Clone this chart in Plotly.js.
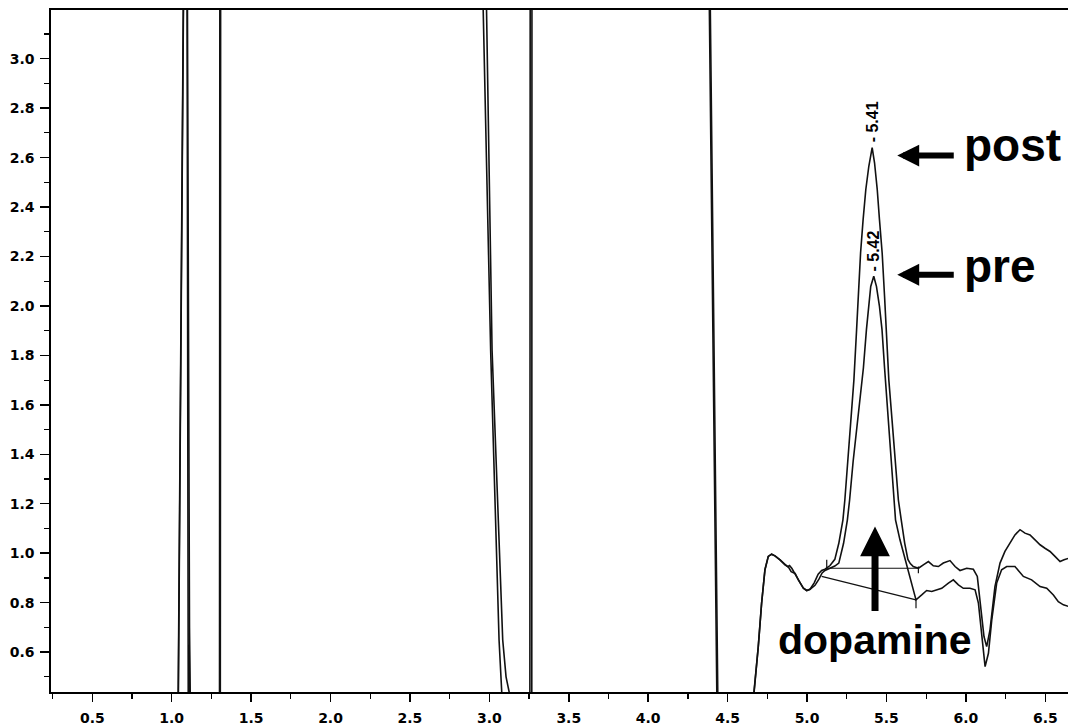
<!DOCTYPE html>
<html>
<head>
<meta charset="utf-8">
<script src="https://cdn.plot.ly/plotly-3.0.1.min.js"></script>
<style>
  html, body { margin: 0; padding: 0; background: #fff; }
  #chart { width: 1068px; height: 725px; }
</style>
</head>
<body>
<div id="chart"></div>
<script>
// Chromatogram traces: retention time (min) vs detector response.
// Values above 3.2 or below 0.44 run off the plotted window.
var postTime = [0.24, 1.040, 1.041, 1.072, 1.074, 1.096, 1.097, 1.104, 1.105, 1.107, 1.110, 1.113,
  1.301, 1.302, 1.303, 2.960, 2.961, 3.008, 3.061, 3.078, 3.080,
  3.255, 3.256, 3.257, 4.384, 4.385, 4.432, 4.434, 4.664,
  4.666, 4.693, 4.714, 4.735, 4.756, 4.777, 4.798, 4.830, 4.861, 4.878, 4.890, 4.905, 4.925, 4.945,
  4.977, 4.998, 5.019, 5.045, 5.070, 5.092, 5.113, 5.145, 5.175, 5.200, 5.226, 5.238, 5.255, 5.275,
  5.295, 5.312, 5.322, 5.337, 5.353, 5.370, 5.389, 5.410, 5.425, 5.442, 5.456, 5.473, 5.488, 5.498,
  5.515, 5.535, 5.555, 5.575, 5.593, 5.615, 5.635, 5.650, 5.669, 5.701, 5.732, 5.764, 5.795, 5.827,
  5.858, 5.900, 5.932, 5.963, 6.005, 6.047, 6.072, 6.093, 6.114, 6.131, 6.152, 6.183, 6.215, 6.246,
  6.278, 6.309, 6.341, 6.372, 6.404, 6.435, 6.467, 6.498, 6.530, 6.561, 6.593, 6.618, 6.650];
var postSignal = [0.35, 0.35, 0.437, 3.2, 3.3, 3.3, 3.2, 0.437, 0.35, 0.35, 0.63, 0.35,
  0.35, 3.2, 3.3, 3.3, 3.2, 1.82, 0.649, 0.437, 0.35,
  0.35, 3.2, 3.3, 3.3, 3.2, 0.437, 0.35, 0.35,
  0.440, 0.622, 0.798, 0.933, 0.987, 0.996, 0.989, 0.973, 0.953, 0.945, 0.950, 0.938, 0.915, 0.892,
  0.858, 0.849, 0.854, 0.880, 0.915, 0.930, 0.935, 0.950, 0.975, 1.040, 1.135, 1.215, 1.370, 1.540,
  1.700, 1.904, 2.039, 2.214, 2.349, 2.471, 2.565, 2.640, 2.579, 2.471, 2.349, 2.214, 2.039, 1.904,
  1.700, 1.540, 1.370, 1.215, 1.135, 1.040, 0.975, 0.958, 0.946, 0.939, 0.953, 0.966, 0.949, 0.946,
  0.960, 0.970, 0.946, 0.930, 0.939, 0.935, 0.906, 0.784, 0.663, 0.622, 0.690, 0.865, 0.960, 1.007,
  1.041, 1.074, 1.095, 1.081, 1.074, 1.054, 1.034, 1.020, 1.007, 0.987, 0.966, 0.973, 0.980];

var preTime = [0.24, 1.041, 1.042, 1.073, 1.075, 1.098, 1.099, 1.112, 1.115, 1.117, 1.118,
  1.306, 1.307, 1.308, 2.981, 2.982, 3.017, 3.084, 3.105, 3.125, 3.127,
  3.267, 3.268, 3.269, 4.390, 4.391, 4.438, 4.440, 4.665,
  4.667, 4.693, 4.714, 4.735, 4.756, 4.777, 4.798, 4.830, 4.861, 4.882, 4.900, 4.925, 4.945, 4.977,
  4.998, 5.019, 5.050, 5.075, 5.095, 5.113, 5.145, 5.175, 5.200, 5.230, 5.254, 5.268, 5.290, 5.320,
  5.355, 5.374, 5.387, 5.401, 5.420, 5.437, 5.456, 5.472, 5.488, 5.510, 5.530, 5.548, 5.557, 5.585,
  5.686, 5.722, 5.753, 5.785, 5.816, 5.848, 5.890, 5.921, 5.953, 5.984, 6.026, 6.058, 6.079, 6.100,
  6.121, 6.142, 6.163, 6.194, 6.225, 6.257, 6.288, 6.309, 6.362, 6.414, 6.467, 6.509, 6.551, 6.582,
  6.614, 6.650];
var preSignal = [0.35, 0.35, 0.437, 3.2, 3.3, 3.3, 3.2, 0.70, 0.60, 0.437, 0.35,
  0.35, 3.2, 3.3, 3.3, 3.2, 1.82, 0.649, 0.50, 0.437, 0.35,
  0.35, 3.2, 3.3, 3.3, 3.2, 0.437, 0.35, 0.35,
  0.440, 0.622, 0.798, 0.933, 0.987, 0.996, 0.989, 0.973, 0.953, 0.945, 0.925, 0.918, 0.892, 0.858,
  0.849, 0.854, 0.870, 0.895, 0.920, 0.930, 0.940, 0.948, 0.960, 1.040, 1.135, 1.215, 1.370, 1.540,
  1.750, 1.904, 1.998, 2.079, 2.120, 2.079, 1.998, 1.904, 1.750, 1.540, 1.370, 1.215, 1.135, 1.054,
  0.811, 0.831, 0.849, 0.845, 0.852, 0.858, 0.879, 0.892, 0.872, 0.858, 0.858, 0.852, 0.798, 0.663,
  0.541, 0.595, 0.730, 0.879, 0.933, 0.946, 0.946, 0.946, 0.906, 0.892, 0.865, 0.858, 0.831, 0.804,
  0.791, 0.784];

// Integration baselines with their start/end drop marks
var postBaseTime = [5.124, 5.124, null, 5.124, 5.701, null, 5.701, 5.701];
var postBaseSignal = [0.973, 0.935, null, 0.939, 0.939, null, 0.946, 0.919];
var preBaseTime = [5.092, 5.686, null, 5.686, 5.686];
var preBaseSignal = [0.906, 0.811, null, 0.811, 0.777];

// Apex retention times and heights
var peakTimes = [5.41, 5.42];
var peakHeights = [2.64, 2.12];
var peakLabels = ['5.41', '5.42'];

var traceLine = {color: '#111', width: 1.6};
var baseLine = {color: '#111', width: 1.2};

var traces = [
  {x: postTime, y: postSignal, type: 'scatter', mode: 'lines', line: traceLine, name: 'post', hoverinfo: 'skip'},
  {x: preTime, y: preSignal, type: 'scatter', mode: 'lines', line: traceLine, name: 'pre', hoverinfo: 'skip'},
  {x: postBaseTime, y: postBaseSignal, type: 'scatter', mode: 'lines', line: baseLine, connectgaps: false, hoverinfo: 'skip'},
  {x: preBaseTime, y: preBaseSignal, type: 'scatter', mode: 'lines', line: baseLine, connectgaps: false, hoverinfo: 'skip'}
];

var tickFont = {family: 'DejaVu Sans', size: 14, weight: 'bold', color: '#000'};
var bigFont = {family: 'Liberation Sans', size: 46, weight: 'bold', color: '#000'};

var annotations = [];
peakTimes.forEach(function (t, i) {
  annotations.push({
    x: t, y: peakHeights[i], xref: 'x', yref: 'y',
    text: '- ' + peakLabels[i], textangle: -90, showarrow: false,
    xanchor: 'center', yanchor: 'bottom', yshift: 3,
    font: {family: 'Liberation Sans', size: 16, weight: 'bold', color: '#000'}
  });
});

annotations.push(
  {x: 5.976, y: 2.649, xref: 'x', yref: 'y', text: 'post', showarrow: false, xanchor: 'left', yanchor: 'middle', font: bigFont},
  {x: 5.976, y: 2.163, xref: 'x', yref: 'y', text: 'pre', showarrow: false, xanchor: 'left', yanchor: 'middle', font: bigFont},
  {x: 5.428, y: 0.647, xref: 'x', yref: 'y', text: 'dopamine', showarrow: false, xanchor: 'center', yanchor: 'middle',
   font: {family: 'Liberation Sans', size: 41, weight: 'bold', color: '#000'}},
  {x: 5.568, y: 2.608, xref: 'x', yref: 'y', text: '', showarrow: true, arrowhead: 2, arrowwidth: 6, arrowsize: 0.73,
   arrowcolor: '#000', ax: 58, ay: 0},
  {x: 5.568, y: 2.126, xref: 'x', yref: 'y', text: '', showarrow: true, arrowhead: 2, arrowwidth: 6, arrowsize: 0.73,
   arrowcolor: '#000', ax: 58, ay: 0},
  {x: 5.428, y: 1.108, xref: 'x', yref: 'y', text: '', showarrow: true, arrowhead: 2, arrowwidth: 7, arrowsize: 0.85,
   arrowcolor: '#000', ax: 0, ay: 86}
);

var layout = {
  width: 1068, height: 725,
  margin: {l: 51, r: 0, t: 10, b: 33},
  paper_bgcolor: '#fff', plot_bgcolor: '#fff',
  showlegend: false,
  xaxis: {
    range: [0.24, 6.643], tick0: 0.5, dtick: 0.5, tickformat: '.1f',
    ticks: 'outside', ticklen: 8, tickwidth: 1.5, tickcolor: '#000',
    minor: {tick0: 0.25, dtick: 0.25, ticks: 'outside', ticklen: 5, tickwidth: 1.2, tickcolor: '#000', showgrid: false},
    showline: true, linecolor: '#000', linewidth: 1.6, mirror: true,
    showgrid: false, zeroline: false, tickfont: tickFont, ticklabelstandoff: 5
  },
  yaxis: {
    range: [0.4385, 3.197], tick0: 0, dtick: 0.2, tickformat: '.1f',
    ticks: 'outside', ticklen: 9, tickwidth: 1.5, tickcolor: '#000',
    minor: {tick0: 0, dtick: 0.1, ticks: 'outside', ticklen: 5, tickwidth: 1.2, tickcolor: '#000', showgrid: false},
    showline: true, linecolor: '#000', linewidth: 1.6, mirror: false,
    showgrid: false, zeroline: false, tickfont: tickFont, ticklabelstandoff: 3
  },
  annotations: annotations
};

Plotly.newPlot('chart', traces, layout, {staticPlot: true, displayModeBar: false});
</script>
</body>
</html>
